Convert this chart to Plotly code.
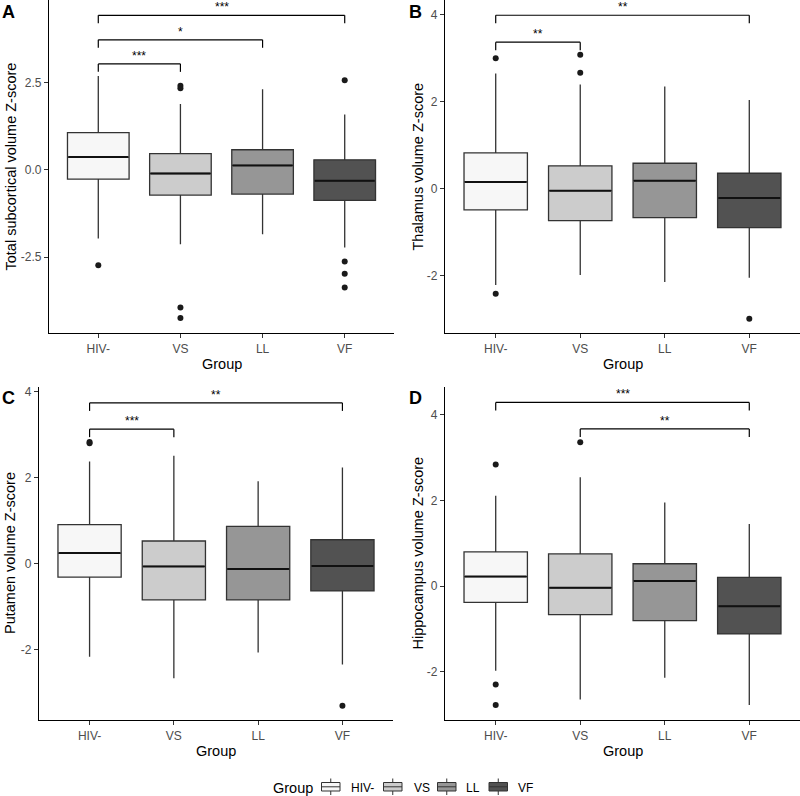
import plotly.graph_objects as go

groups = ["HIV-", "VS", "LL", "VF"]
fills = ["#F7F7F7", "#CCCCCC", "#969696", "#525252"]

# Panel A - Total subcortical
a_q1 = [-0.26, -0.72, -0.69, -0.87]
a_med = [0.37, -0.10, 0.13, -0.31]
a_q3 = [1.07, 0.47, 0.58, 0.29]
a_lo = [-1.96, -2.13, -1.84, -2.22]
a_hi = [2.69, 1.89, 2.31, 1.59]
a_out = [[-2.73], [2.41, 2.34, -3.94, -4.24], [], [2.57, -2.62, -2.97, -3.37]]
a_sig = [("HIV-", "VS", 3.04, "***"), ("HIV-", "LL", 3.73, "*"), ("HIV-", "VF", 4.43, "***")]

# Panel B - Thalamus
b_q1 = [-0.49, -0.74, -0.67, -0.90]
b_med = [0.15, -0.05, 0.18, -0.22]
b_q3 = [0.82, 0.52, 0.58, 0.35]
b_lo = [-2.22, -1.99, -2.15, -2.05]
b_hi = [2.64, 2.39, 2.34, 2.03]
b_out = [[2.99, -2.42], [3.07, 2.66], [], [-2.99]]
b_sig = [("HIV-", "VS", 3.36, "**"), ("HIV-", "VF", 3.98, "**")]

# Panel C - Putamen
c_q1 = [-0.31, -0.84, -0.84, -0.63]
c_med = [0.25, -0.06, -0.12, -0.05]
c_q3 = [0.91, 0.53, 0.87, 0.56]
c_lo = [-2.16, -2.66, -2.06, -2.34]
c_hi = [2.38, 2.51, 1.92, 2.24]
c_out = [[2.83, 2.80], [], [], [-3.30]]
c_sig = [("HIV-", "VS", 3.13, "***"), ("HIV-", "VF", 3.74, "**")]

# Panel D - Hippocampus
d_q1 = [-0.38, -0.67, -0.81, -1.12]
d_med = [0.22, -0.04, 0.12, -0.47]
d_q3 = [0.80, 0.75, 0.52, 0.20]
d_lo = [-1.98, -2.65, -2.14, -2.78]
d_hi = [2.11, 2.54, 1.95, 1.45]
d_out = [[2.84, -2.30, -2.78], [3.36], [], []]
d_sig = [("HIV-", "VF", 4.29, "***"), ("VS", "VF", 3.67, "**")]

y_titles = ["Total subcortical volume Z-score", "Thalamus volume Z-score",
            "Putamen volume Z-score", "Hippocampus volume Z-score"]
letters = ["A", "B", "C", "D"]
y_ticks_a = [-2.5, 0.0, 2.5]
y_ticktext_a = ["-2.5", "0.0", "2.5"]
y_ticks_b = [-2, 0, 2, 4]
y_ticktext_b = ["-2", "0", "2", "4"]

W, H = 800, 796


def px(x):
    return x / W


def py(y):
    return 1 - y / H


panels = [
    dict(q1=a_q1, med=a_med, q3=a_q3, lo=a_lo, hi=a_hi, out=a_out, sig=a_sig,
         yr=[-4.67, 4.87], tv=y_ticks_a, tt=y_ticktext_a,
         xd=[px(49), px(394)], yd=[py(333), 1.0], ytx=10, lx=0, ly=1.0),
    dict(q1=b_q1, med=b_med, q3=b_q3, lo=b_lo, hi=b_hi, out=b_out, sig=b_sig,
         yr=[-3.32, 4.33], tv=y_ticks_b, tt=y_ticktext_b,
         xd=[px(445), 1.0], yd=[py(333), 1.0], ytx=417, lx=407, ly=1.0),
    dict(q1=c_q1, med=c_med, q3=c_q3, lo=c_lo, hi=c_hi, out=c_out, sig=c_sig,
         yr=[-3.63, 4.11], tv=y_ticks_b, tt=y_ticktext_b,
         xd=[px(39), px(393)], yd=[py(720), py(387)], ytx=9.5, lx=0, ly=py(386)),
    dict(q1=d_q1, med=d_med, q3=d_q3, lo=d_lo, hi=d_hi, out=d_out, sig=d_sig,
         yr=[-3.13, 4.65], tv=y_ticks_b, tt=y_ticktext_b,
         xd=[px(445), 1.0], yd=[py(720), py(387)], ytx=417, lx=407, ly=py(386)),
]

FONT = "Liberation Sans, Arial, sans-serif"
BOX_W = 0.75
fig = go.Figure()
shapes = []
annotations = []
layout_axes = {}

for p_i, p in enumerate(panels):
    sfx = "" if p_i == 0 else str(p_i + 1)
    xa, ya = "x" + sfx, "y" + sfx
    for g_i, g in enumerate(groups):
        fig.add_trace(go.Box(
            x=[g], q1=[p["q1"][g_i]], median=[p["med"][g_i]], q3=[p["q3"][g_i]],
            lowerfence=[p["lo"][g_i]], upperfence=[p["hi"][g_i]],
            fillcolor=fills[g_i], line=dict(color="#333333", width=1.3),
            whiskerwidth=0, width=BOX_W, boxpoints=False, name=g,
            showlegend=False, xaxis=xa, yaxis=ya, hoverinfo="skip"))
        shapes.append(dict(type="line", xref=xa, yref=ya,
                           x0=g_i - BOX_W / 2 + 0.01, x1=g_i + BOX_W / 2 - 0.01,
                           y0=p["med"][g_i], y1=p["med"][g_i],
                           line=dict(color="#111111", width=2)))
        if p["out"][g_i]:
            fig.add_trace(go.Scatter(
                x=[g] * len(p["out"][g_i]), y=p["out"][g_i], mode="markers",
                marker=dict(color="#1a1a1a", size=6), showlegend=False,
                xaxis=xa, yaxis=ya, hoverinfo="skip"))
    span = p["yr"][1] - p["yr"][0]
    tip = 0.024 * span
    for g1, g2, yv, lab in p["sig"]:
        i1, i2 = groups.index(g1), groups.index(g2)
        for (x0, y0, x1, y1) in [(i1, yv - tip, i1, yv), (i1, yv, i2, yv), (i2, yv, i2, yv - tip)]:
            shapes.append(dict(type="line", xref=xa, yref=ya, x0=x0, y0=y0, x1=x1, y1=y1,
                               line=dict(color="black", width=1.2)))
        annotations.append(dict(x=(i1 + i2) / 2, y=yv, xref=xa, yref=ya, text=lab,
                                showarrow=False, yanchor="bottom", yshift=-1,
                                font=dict(size=12, color="black", family=FONT)))
    axis_common = dict(showline=True, linecolor="black", linewidth=1.2, ticks="outside",
                       ticklen=4, tickcolor="#333333", tickwidth=1,
                       tickfont=dict(size=12, color="#4D4D4D", family=FONT),
                       showgrid=False, zeroline=False, automargin=False, fixedrange=True)
    layout_axes["xaxis" + sfx] = dict(axis_common, type="category", categoryorder="array",
                                      categoryarray=groups, range=[-0.6, 3.6],
                                      domain=p["xd"], anchor=ya)
    layout_axes["yaxis" + sfx] = dict(axis_common, range=p["yr"], tickvals=p["tv"],
                                      ticktext=p["tt"], domain=p["yd"], anchor=xa)
    annotations.append(dict(x=(p["xd"][0] + p["xd"][1]) / 2, y=p["yd"][0] - 31 / H,
                            xref="paper", yref="paper", text="Group", showarrow=False,
                            xanchor="center", yanchor="middle",
                            font=dict(size=14.5, color="black", family=FONT)))
    annotations.append(dict(x=px(p["ytx"]), y=(p["yd"][0] + p["yd"][1]) / 2,
                            xref="paper", yref="paper", text=y_titles[p_i], textangle=-90,
                            showarrow=False, xanchor="center", yanchor="middle",
                            font=dict(size=14.5, color="black", family=FONT)))
    annotations.append(dict(x=px(p["lx"]), y=p["ly"], xref="paper", yref="paper",
                            text="<b>" + letters[p_i] + "</b>", showarrow=False,
                            xanchor="left", yanchor="top",
                            font=dict(size=18, color="black", family=FONT)))

# Manual legend (ggplot style keys with whiskers)
leg_key_x = [321.5, 383.5, 437.5, 489.0]
leg_text_x = [348.5, 411.5, 463.5, 515.5]
key_w = 18.5
key_top, key_bot, key_mid = 782.5, 791.0, 786.8
wh_top, wh_bot = 778.5, 795.0
leg_cy = 788.0
annotations.append(dict(x=px(271), y=py(leg_cy), xref="paper", yref="paper", text="Group",
                        showarrow=False, xanchor="left", yanchor="middle",
                        font=dict(size=14.5, color="black", family=FONT)))
for g_i, g in enumerate(groups):
    kx0 = leg_key_x[g_i]
    kx1 = kx0 + key_w
    kxc = (kx0 + kx1) / 2
    shapes.append(dict(type="rect", xref="paper", yref="paper", x0=px(kx0), x1=px(kx1),
                       y0=py(key_bot), y1=py(key_top), fillcolor=fills[g_i],
                       line=dict(color="#333333", width=1)))
    shapes.append(dict(type="line", xref="paper", yref="paper", x0=px(kx0), x1=px(kx1),
                       y0=py(key_mid), y1=py(key_mid), line=dict(color="#333333", width=1)))
    shapes.append(dict(type="line", xref="paper", yref="paper", x0=px(kxc), x1=px(kxc),
                       y0=py(wh_top), y1=py(key_top), line=dict(color="#333333", width=1)))
    shapes.append(dict(type="line", xref="paper", yref="paper", x0=px(kxc), x1=px(kxc),
                       y0=py(key_bot), y1=py(wh_bot), line=dict(color="#333333", width=1)))
    annotations.append(dict(x=px(leg_text_x[g_i]), y=py(leg_cy), xref="paper", yref="paper",
                            text=g, showarrow=False, xanchor="left", yanchor="middle",
                            font=dict(size=12, color="black", family=FONT)))

fig.update_layout(
    width=W, height=H, margin=dict(l=0, r=0, t=0, b=0),
    paper_bgcolor="white", plot_bgcolor="white", boxmode="overlay",
    font=dict(family=FONT, color="black"), showlegend=False,
    shapes=shapes, annotations=annotations,
    **layout_axes,
)

fig.write_html("out.html", config={"displayModeBar": False},
               post_script="document.body.style.margin='0';document.body.style.overflow='hidden';")
